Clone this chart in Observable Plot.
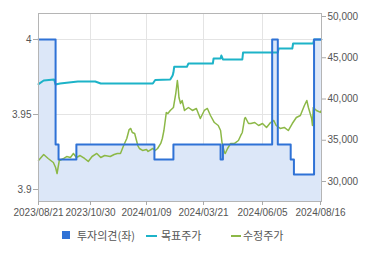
<!DOCTYPE html>
<html>
<head>
<meta charset="utf-8">
<script src="https://cdn.jsdelivr.net/npm/d3@7"></script>
<script src="https://cdn.jsdelivr.net/npm/@observablehq/plot@0.6"></script>
<style>
  html, body { margin: 0; padding: 0; background: #fff; }
  #wrap { width: 370px; font-family: "Liberation Sans", Arial, sans-serif; }
  #legend { position: relative; width: 370px; height: 33px; font-family: "Noto Sans CJK KR", sans-serif; font-size: 11px; color: #555; }
  #legend .sw { position: absolute; }
  #legend .tx { position: absolute; top: 5px; line-height: 16px; }
</style>
</head>
<body>
<div id="wrap">
  <div id="chart"></div>
  <div id="legend">
    <div class="sw" style="left:62px;top:9px;width:8px;height:8px;background:#2f72d6"></div>
    <div class="tx" style="left:77px">투자의견(좌)</div>
    <div class="sw" style="left:146px;top:13px;width:11px;height:2px;background:#1db3c8"></div>
    <div class="tx" style="left:161px">목표주가</div>
    <div class="sw" style="left:231px;top:13px;width:10px;height:2px;background:#8cb847"></div>
    <div class="tx" style="left:243px">수정주가</div>
  </div>
</div>
<script>
// ---- data ----
const xTickDates = ["2023-08-21","2023-10-30","2024-01-09","2024-03-21","2024-06-05","2024-08-16"];
const leftTicks = [3.9, 3.95, 4];
const leftTickLabels = ["3.9", "3.95", "4"];
const rightTicks = [30000, 35000, 40000, 45000, 50000];

// 투자의견 (step)
const opinionDates = ["2023-08-21","2023-09-13","2023-09-17","2023-10-11","2024-01-19","2024-02-12","2024-04-12","2024-04-15","2024-06-17","2024-06-24","2024-07-10","2024-07-14","2024-08-08","2024-08-17"];
const opinionValues = [4, 3.93, 3.92, 3.93, 3.92, 3.93, 3.92, 3.93, 4, 3.93, 3.92, 3.91, 4, 4];

// 목표주가
const targetDates = ["2023-08-21","2023-08-28","2023-09-11","2023-09-13","2023-09-19","2023-10-13","2023-11-05","2023-11-12","2024-01-17","2024-01-20","2024-02-08","2024-02-11","2024-02-12","2024-02-13","2024-02-29","2024-03-02","2024-04-02","2024-04-03","2024-04-12","2024-04-13","2024-04-15","2024-05-10","2024-05-11","2024-06-24","2024-06-25","2024-07-12","2024-07-13","2024-08-07","2024-08-08","2024-08-17"];
const targetValues = [41800, 42240, 42360, 41760, 41880, 42120, 42120, 41880, 41880, 42300, 42360, 42850, 43210, 43900, 43900, 44300, 44300, 44910, 44910, 45270, 44790, 44790, 45640, 45640, 46120, 46120, 46730, 46730, 47210, 47210];

// 수정주가
const priceDates = ["2023-08-21","2023-08-28","2023-09-03","2023-09-10","2023-09-13","2023-09-15","2023-09-18","2023-09-24","2023-09-28","2023-10-03","2023-10-07","2023-10-11","2023-10-16","2023-10-22","2023-10-27","2023-11-01","2023-11-07","2023-11-12","2023-11-17","2023-11-24","2023-11-29","2023-12-03","2023-12-07","2023-12-11","2023-12-15","2023-12-18","2023-12-20","2023-12-22","2023-12-25","2023-12-29","2023-12-31","2024-01-04","2024-01-09","2024-01-11","2024-01-17","2024-01-20","2024-01-23","2024-01-27","2024-01-29","2024-01-31","2024-02-03","2024-02-05","2024-02-08","2024-02-12","2024-02-15","2024-02-17","2024-02-18","2024-02-19","2024-02-21","2024-02-23","2024-02-26","2024-03-02","2024-03-07","2024-03-12","2024-03-17","2024-03-22","2024-03-26","2024-03-30","2024-04-04","2024-04-09","2024-04-12","2024-04-14","2024-04-17","2024-04-18","2024-04-21","2024-04-25","2024-04-30","2024-05-05","2024-05-08","2024-05-10","2024-05-13","2024-05-14","2024-05-18","2024-05-21","2024-05-26","2024-05-31","2024-06-05","2024-06-10","2024-06-15","2024-06-19","2024-06-22","2024-06-27","2024-07-02","2024-07-07","2024-07-12","2024-07-17","2024-07-22","2024-07-27","2024-07-30","2024-08-01","2024-08-05","2024-08-06","2024-08-07","2024-08-11","2024-08-16","2024-08-17"];
const priceValues = [32550, 33270, 32790, 32300, 31700, 30970, 32550, 32790, 33030, 32910, 33400, 32910, 33150, 32790, 32430, 33030, 33400, 32910, 33150, 33030, 33270, 33400, 33400, 34360, 35210, 36300, 36430, 35940, 35820, 34360, 34000, 33760, 33880, 33640, 34000, 33760, 34000, 34610, 35210, 36180, 38360, 38240, 38610, 38970, 40670, 42240, 41400, 40180, 39460, 39820, 38610, 38970, 38610, 38850, 37640, 38610, 38850, 38000, 37150, 36790, 36180, 34610, 33520, 33400, 34000, 34610, 34610, 34970, 35580, 35940, 37640, 37760, 37030, 37030, 37150, 36790, 37030, 36550, 37150, 37400, 36790, 36430, 36550, 36180, 37030, 37760, 38000, 39210, 39820, 38970, 37640, 36790, 38970, 38610, 38370, 38610];

// ---- build ----
const parse = d3.utcParse("%Y-%m-%d");
const opinionToY = o => 29030 + (o - 3.9) * 181820; // left axis mapped onto right-axis scale
const yMin = 27576, yMax = 50364;

const opinion = opinionDates.map((d, i) => ({date: parse(d), v: opinionValues[i]}));
const target = targetDates.map((d, i) => ({date: parse(d), v: targetValues[i]}));
const price = priceDates.map((d, i) => ({date: parse(d), v: priceValues[i]}));
const xTicks = xTickDates.map(parse);

const fmtDate = d3.utcFormat("%Y/%m/%d");

const chart = Plot.plot({
  width: 370,
  height: 222,
  marginLeft: 38,
  marginRight: 49,
  marginTop: 13,
  marginBottom: 21,
  style: {fontFamily: "'Liberation Sans', Arial, sans-serif", fontSize: "10px", background: "#fff"},
  x: {type: "utc", domain: xTicks, range: [38, 90, 146, 203, 262, 320]},
  y: {domain: [yMin, yMax]},
  marks: [
    Plot.gridY(leftTicks.map(opinionToY), {stroke: "#e4e4e4", strokeOpacity: 1}),
    Plot.gridX(xTicks.slice(1, -1), {stroke: "#e4e4e4", strokeOpacity: 1}),
    Plot.areaY(opinion, {x: "date", y1: yMin, y2: d => opinionToY(d.v), curve: "step-after", fill: "#dce7f8"}),
    Plot.line(target, {x: "date", y: "v", stroke: "#1db3c8", strokeWidth: 2}),
    Plot.line(price, {x: "date", y: "v", stroke: "#8cb847", strokeWidth: 1.5}),
    Plot.line(opinion, {x: "date", y: d => opinionToY(d.v), curve: "step-after", stroke: "#2f72d6", strokeWidth: 2}),
    Plot.frame({stroke: "#b5b5b5"}),
    Plot.axisX({ticks: xTicks, tickFormat: fmtDate, tickSize: 4, tickPadding: 3, color: "#555", stroke: "#aaa", label: null}),
    Plot.axisY({anchor: "left", ticks: leftTicks.map(opinionToY), tickFormat: (d, i) => leftTickLabels[i], tickSize: 5, tickPadding: 2, color: "#555", stroke: "#aaa", label: null}),
    Plot.axisY({anchor: "right", ticks: rightTicks, tickFormat: d3.format(","), tickSize: 4, tickPadding: 2, color: "#555", stroke: "#aaa", label: null})
  ]
});
document.getElementById("chart").appendChild(chart);
</script>
</body>
</html>
